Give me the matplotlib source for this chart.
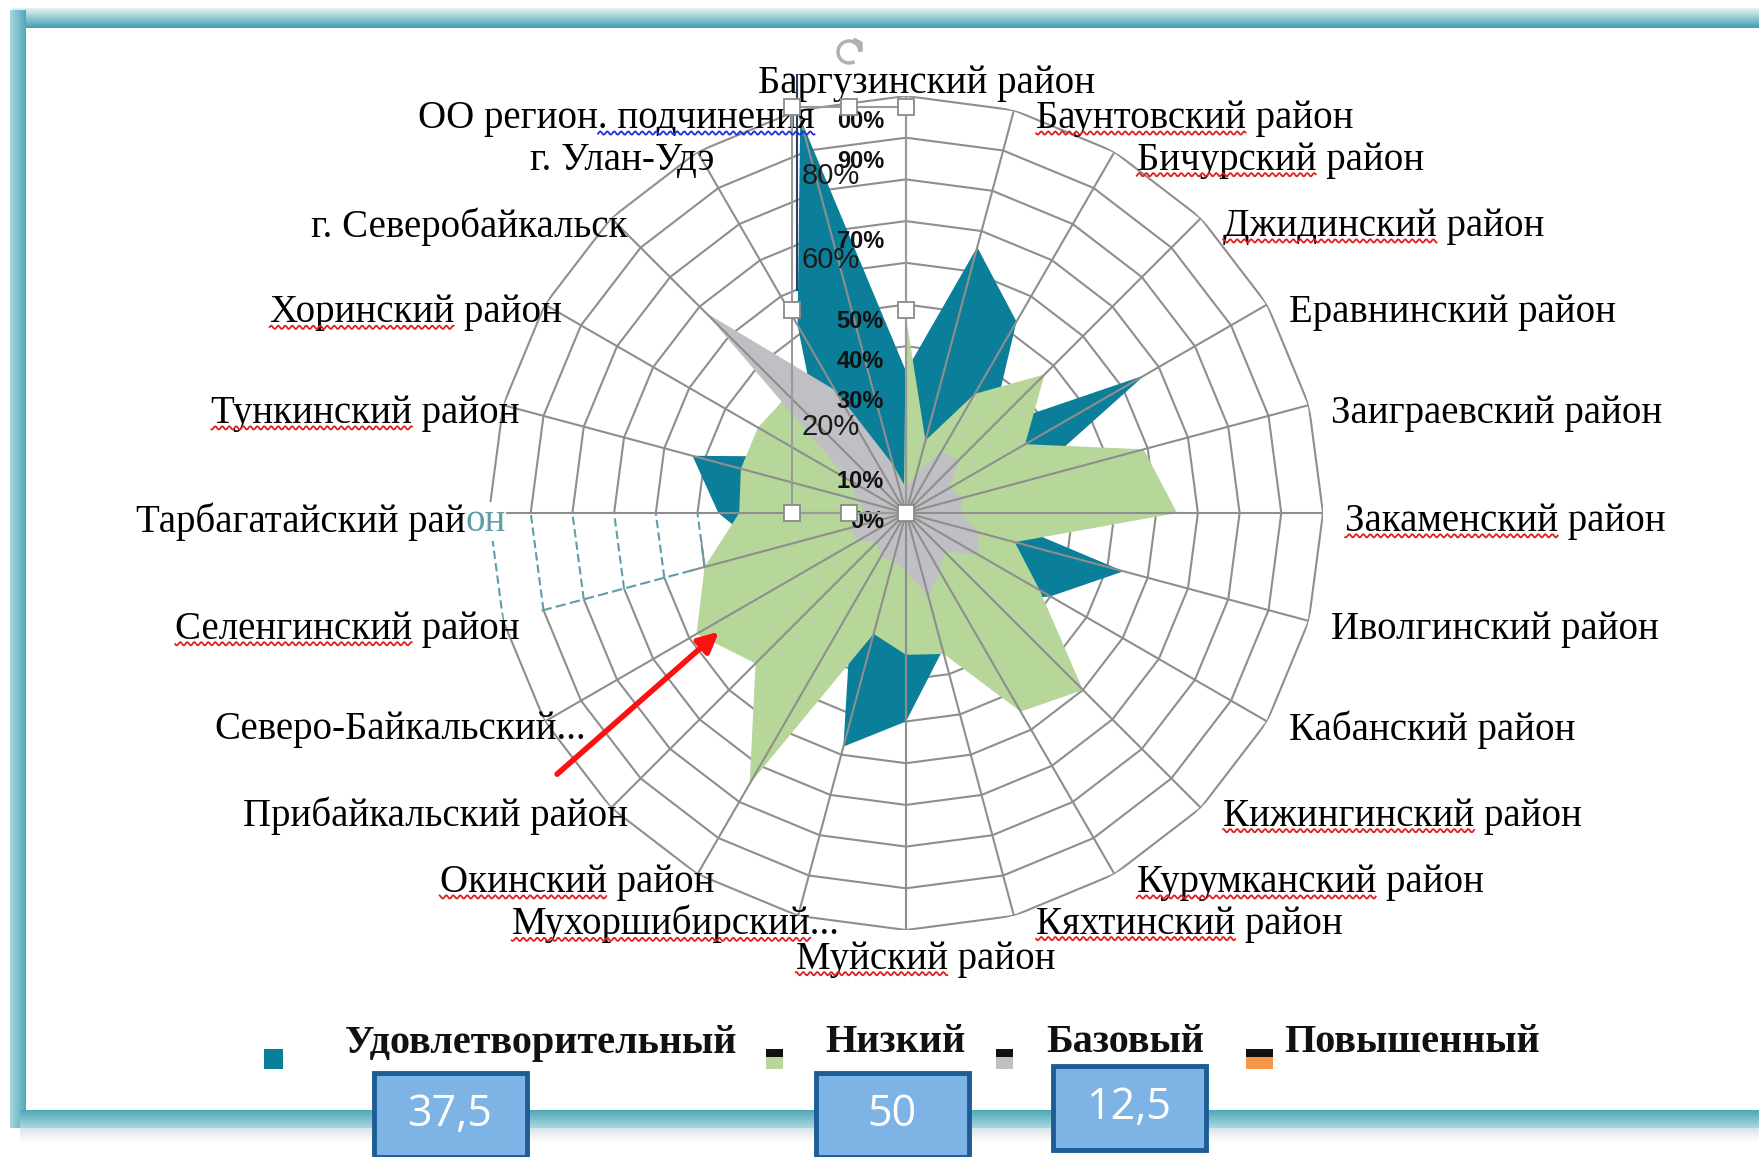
import numpy as np
import matplotlib.pyplot as plt
from matplotlib.patches import Rectangle, FancyArrowPatch, Arc
from matplotlib.colors import LinearSegmentedColormap

plt.rcParams['font.family'] = ['Liberation Serif', 'DejaVu Serif']

# районы по часовой стрелке, начиная сверху
categories = ['Баргузинский район', 'Баунтовский район', 'Бичурский район',
              'Джидинский район', 'Еравнинский район', 'Заиграевский район',
              'Закаменский район', 'Иволгинский район', 'Кабанский район',
              'Кижингинский район', 'Курумканский район', 'Кяхтинский район',
              'Муйский район', 'Мухоршибирский...', 'Окинский район',
              'Прибайкальский район', 'Северо-Байкальский...', 'Селенгинский район',
              'Тарбагатайский район', 'Тункинский район', 'Хоринский район',
              'г. Северобайкальск', 'г. Улан-Удэ', 'ОО регион. подчинения']

# доли по уровням, %
udovl = [34, 66, 53, 29, 66, 30, 19, 54, 40, 30, 25, 34,
         50, 58, 26, 20, 25, 35, 45, 53, 27, 30, 52, 98]
nizkiy = [47, 18, 33, 47, 33, 59, 65, 27, 37, 60, 55, 35,
          34, 30, 75, 51, 58, 50, 40, 41, 41, 40, 15, 2]
bazovy = [6, 10, 17, 18, 12, 14, 13, 18, 20, 13, 16, 21,
          14, 12, 12, 10, 13, 14, 10, 12, 16, 68, 34, 12]
povysh = [0, 0, 3, 3, 0, 0, 0, 0, 0, 0, 0, 0,
          0, 0, 0, 0, 0, 0, 0, 0, 0, 0, 0, 0]

series_names = ['Удовлетворительный', 'Низкий', 'Базовый', 'Повышенный']
series_colors = ['#0b7f99', '#b6d69a', '#c0c0c4', '#f79646']

ring_values = list(range(0, 101, 10))
axis_labels_a = [100, 90, 70, 50, 40, 30, 10, 0]   # сдвинутый набор подписей
axis_labels_b = [80, 60, 20]
box_values = ['37,5', '50', '12,5']

# слова, подчёркнутые проверкой орфографии
red_words = ['Баунтовский', 'Бичурский', 'Джидинский', 'Закаменский', 'Кижингинский',
             'Курумканский', 'Кяхтинский', 'Муйский', 'Мухоршибирский', 'Окинский',
             'Селенгинский', 'Тункинский', 'Хоринский']

W, H = 1759, 1157
fig = plt.figure(figsize=(W / 100, H / 100), dpi=100)
fig.patch.set_facecolor('white')

cx, cy, R = 906, 513, 417
ax = fig.add_axes([(cx - R) / W, (H - cy - R) / H, 2 * R / W, 2 * R / H],
                  projection='polar', zorder=1)
ax.set_facecolor('none')
ax.set_theta_zero_location('N')
ax.set_theta_direction(-1)
ax.grid(False)
ax.spines['polar'].set_visible(False)
ax.set_xticks([])
ax.set_yticks([])

n = len(categories)
theta = np.arange(n) * 2 * np.pi / n
tc = np.append(theta, theta[0])

def closed(v):
    return np.append(v, v[0])

grid_c = '#8e8e8e'
for v in ring_values[1:]:
    ax.plot(tc, [v] * (n + 1), color=grid_c, lw=1.5, zorder=1)

for vals, col in zip([udovl, nizkiy, bazovy, povysh], series_colors):
    ax.fill(tc, closed(vals), color=col, lw=0, zorder=2)

# артефакт скриншота между Селенгинским и Тарбагатайским
t17, t18 = theta[17], theta[18]
ax.fill([t17, t17, t18, t18], [53, 101, 101, 47], color='white', lw=0, zorder=2.5)
art_c = '#5f9ea8'
for v in ring_values[5:]:
    ax.plot([t17, t18], [v, v], color=art_c, lw=1.5, ls=(0, (4, 2)), zorder=2.6)

for i, t in enumerate(theta):
    if i == 17:
        ax.plot([t, t], [0, 53], color=grid_c, lw=1.5, zorder=3)
        ax.plot([t, t], [53, 91], color=art_c, lw=1.5, ls=(0, (5, 2)), zorder=3)
    else:
        ax.plot([t, t], [0, 100], color=grid_c, lw=1.5, zorder=3)
ax.set_ylim(0, 100)

# подписи категорий
label_fs = 28
texts = []
for i, (t, name) in enumerate(zip(theta, categories)):
    deg = i * 360 / n
    if i == 0:
        off, ha, va = (15, 9), 'center', 'center'
    elif i == 12:
        off, ha, va = (14, -21), 'center', 'center'
    elif deg < 180:
        off, ha, va = (16, -6), 'left', 'center'
    else:
        off, ha, va = (12, -6), 'right', 'center'
    if i in (13, 16):
        off = (30, -6)
    txt = ax.annotate(name, xy=(t, 100), xytext=off, textcoords='offset points',
                      ha=ha, va=va, fontsize=label_fs, annotation_clip=False)
    texts.append(txt)

# хвост подписи Тарбагатайского района окрашен
ax.annotate('он', xy=(t18, 100), xytext=(12, -6), textcoords='offset points',
            ha='right', va='center', fontsize=label_fs, color=art_c,
            bbox=dict(fc='white', ec='none', pad=0.5), annotation_clip=False, zorder=4)

# верхний слой в пикселях
ov = fig.add_axes([0, 0, 1, 1], zorder=5)
ov.axis('off')

def grad(x0, x1, y0, y1, c0, c1, vertical=True):
    cm = LinearSegmentedColormap.from_list('g', [c0, c1])
    g = np.linspace(0, 1, 64)
    arr = g.reshape(-1, 1) if vertical else g.reshape(1, -1)
    ov.imshow(arr, extent=[x0, x1, y1, y0], cmap=cm, aspect='auto', zorder=0)

grad(12, W, 8, 28, '#e4f3f5', '#3f9fb0')
grad(10, 26, 10, 1128, '#a9d8e0', '#4fa8b8', vertical=False)
grad(20, W, 1110, 1128, '#4fa8b8', '#a9d8e0')
grad(20, W, 1128, 1142, '#d9e4e6', '#ffffff')

# радиальные подписи
for v in axis_labels_a:
    s = f'{v}%'[-3:]
    ov.text(884, 522 - 4.0 * v, s, ha='right', va='center', fontsize=17,
            fontweight='bold', family=['Liberation Sans Narrow', 'Liberation Sans'],
            color='#111111', zorder=3)
for v in axis_labels_b:
    ov.text(802, cy - v / 100 * R - 3, f'{v}%', ha='left', va='center', fontsize=21,
            family=['Liberation Sans'], color='#1a1a1a', zorder=3)

# рамка выделения
bx0, by0, bx1, by1 = 792, 107, cx, cy
ov.add_patch(Rectangle((bx0, by0), bx1 - bx0, by1 - by0, fill=False,
                       ec='#9a9a9a', lw=1.5, zorder=4))
ov.plot([797, 797], [75, 290], color='#2b3f6b', lw=1.5, zorder=4)
xm, ym = (bx0 + bx1) / 2, (by0 + by1) / 2
for hx, hy in [(bx0, by0), (xm, by0), (bx1, by0), (bx0, ym), (bx1, ym),
               (bx0, by1), (xm, by1), (bx1, by1)]:
    ov.add_patch(Rectangle((hx - 8, hy - 8), 16, 16, fc='white', ec='#8a8a8a',
                           lw=1.3, zorder=6))
ov.add_patch(Arc((xm, 52), 22, 22, theta1=60, theta2=360, color='#b0b0b0', lw=2.5, zorder=4))
ov.plot([xm + 6, xm + 12, xm + 12], [40, 43, 50], color='#b0b0b0', lw=2.5, zorder=4)

# стрелка
ov.add_patch(FancyArrowPatch((555, 776), (721, 630), arrowstyle='-|>', mutation_scale=30,
                             color='#ff1010', lw=4, zorder=7))

# легенда
ov.add_patch(Rectangle((264, 1049), 19, 20, fc=series_colors[0], ec='none', zorder=3))
leg_x = [345, 825, 1046, 1284]
for name, x in zip(series_names, leg_x):
    ov.text(x, 1043, name, ha='left', va='center', fontsize=29, fontweight='bold',
            color='#111111', zorder=3)
for x, col, w in [(766, series_colors[1], 17), (996, series_colors[2], 17),
                  (1246, series_colors[3], 27)]:
    ov.add_patch(Rectangle((x, 1049), w, 8, fc='#111111', ec='none', zorder=3))
    ov.add_patch(Rectangle((x, 1057), w, 12, fc=col, ec='none', zorder=3))

# блоки со значениями
for s, (x0, y0) in zip(box_values, [(374, 1073), (816, 1073), (1053, 1066)]):
    ov.add_patch(Rectangle((x0, y0), 153, 84, fc='#7eb3e6', ec='#1d5d94', lw=3.5, zorder=8))
    ov.text(x0 + 76, y0 + 42, s, ha='center', va='center', fontsize=31,
            family=['Open Sans', 'DejaVu Sans'], color='white', zorder=9)

ov.set_xlim(0, W)
ov.set_ylim(H, 0)

# волнистые подчёркивания
fig.canvas.draw()
rend = fig.canvas.get_renderer()

def word_width(word):
    tmp = ov.text(0, 0, word, fontsize=label_fs)
    w = tmp.get_window_extent(rend).width
    tmp.remove()
    return w

def wavy(x0, x1, y, col):
    xs = np.arange(x0, x1, 0.5)
    ov.plot(xs, y + 1.6 * np.sin(xs * 2 * np.pi / 7), color=col, lw=1.3, zorder=4)

for txt, name in zip(texts, categories):
    bb = txt.get_window_extent(rend)
    first = name.split()[0].rstrip('.')
    if first in red_words:
        wavy(bb.x0, bb.x0 + word_width(first), H - bb.y0 - 4, '#e02020')
    if name.startswith('ОО'):
        wavy(bb.x0 + word_width('ОО регион'), bb.x1, H - bb.y0 - 4, '#2030e0')

fig.savefig('out.png', dpi=100)
